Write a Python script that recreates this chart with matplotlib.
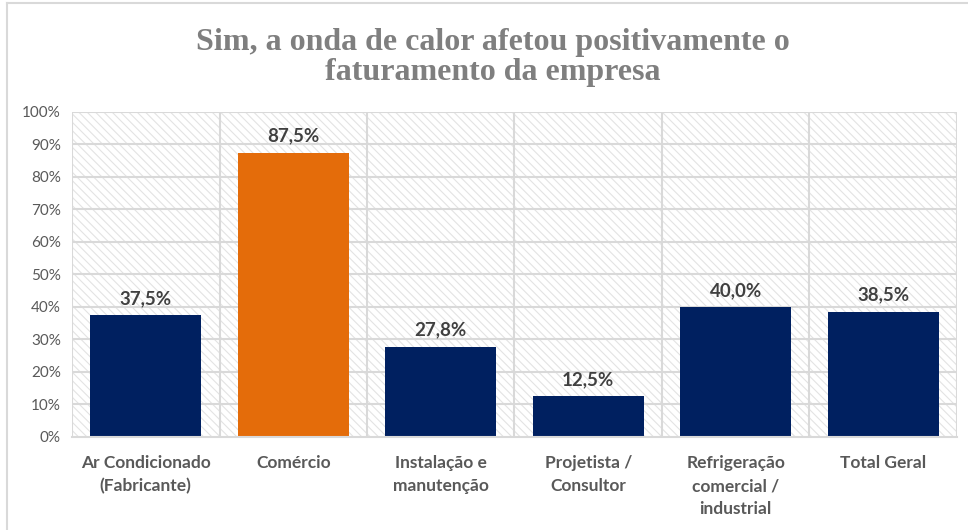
import matplotlib.pyplot as plt
from matplotlib.patches import Rectangle
from matplotlib.lines import Line2D
from matplotlib.ticker import FuncFormatter

# dados
categorias = ["Ar Condicionado\n(Fabricante)", "Comércio", "Instalação e\nmanutenção",
              "Projetista /\nConsultor", "Refrigeração\ncomercial /\nindustrial", "Total Geral"]
valores = [37.5, 87.5, 27.8, 12.5, 40.0, 38.5]
cores = ["#002060", "#E46C0A", "#002060", "#002060", "#002060", "#002060"]
titulo = "Sim, a onda de calor afetou positivamente o\nfaturamento da empresa"

plt.rcParams['font.family'] = ['Lato', 'DejaVu Sans']
plt.rcParams['hatch.color'] = '#e3e3e3'
plt.rcParams['hatch.linewidth'] = 0.8

fig = plt.figure(figsize=(9.68, 5.30), dpi=100)
ax = fig.add_axes([0.0744, 0.1755, 0.9142, 0.6132])

# fundo hachurado
fundo = Rectangle((0, 0), 1, 1, transform=ax.transAxes, facecolor='white',
                  edgecolor='#e3e3e3', hatch='\\' * 4, linewidth=0, zorder=0)
ax.add_patch(fundo)

x = range(len(categorias))
ax.bar(x, valores, width=0.75, color=cores, zorder=3)

for xi, v in zip(x, valores):
    ax.text(xi, v + 2.5, f"{v:.1f}%".replace('.', ','), ha='center', va='bottom',
            fontsize=13.5, fontweight='bold', color='#404040', zorder=4)

ax.set_xlim(-0.5, len(categorias) - 0.5)
ax.set_ylim(0, 100)
ax.set_yticks(range(0, 101, 10))
ax.yaxis.set_major_formatter(FuncFormatter(lambda v, p: f"{v:.0f}%"))
ax.set_xticks(list(x))
ax.set_xticklabels(categorias, fontsize=12.5, fontweight='bold', color='#595959',
                   linespacing=1.55, va='top')

# grade
for yv in range(10, 101, 10):
    ax.axhline(yv, color='#d9d9d9', linewidth=1.5, zorder=1)
for xv in [i + 0.5 for i in range(len(categorias))]:
    ax.axvline(xv, color='#d9d9d9', linewidth=1.5, zorder=1)
ax.axvline(-0.5, color='#d9d9d9', linewidth=1.5, zorder=1)

for s in ['top', 'right', 'left']:
    ax.spines[s].set_visible(False)
ax.spines['bottom'].set_color('#d9d9d9')
ax.spines['bottom'].set_linewidth(1.5)
ax.spines['bottom'].set_zorder(5)
ax.tick_params(axis='both', length=0)
ax.tick_params(axis='y', labelsize=11, labelcolor='#595959', pad=8)
ax.tick_params(axis='x', pad=13)

fig.text(0.509, 0.8915, titulo, ha='center', va='center', fontsize=23,
         fontweight='bold', color='#7f7f7f', family=['Liberation Serif', 'DejaVu Serif'],
         linespacing=1.05)

# moldura do gráfico (cortada)
fig.add_artist(Line2D([7 / 968, 7 / 968], [0, 1 - 3 / 530], color='#d9d9d9', linewidth=1.5))
fig.add_artist(Line2D([7 / 968, 1], [1 - 3 / 530, 1 - 3 / 530], color='#d9d9d9', linewidth=1.5))

fig.savefig("out.png", dpi=100)
